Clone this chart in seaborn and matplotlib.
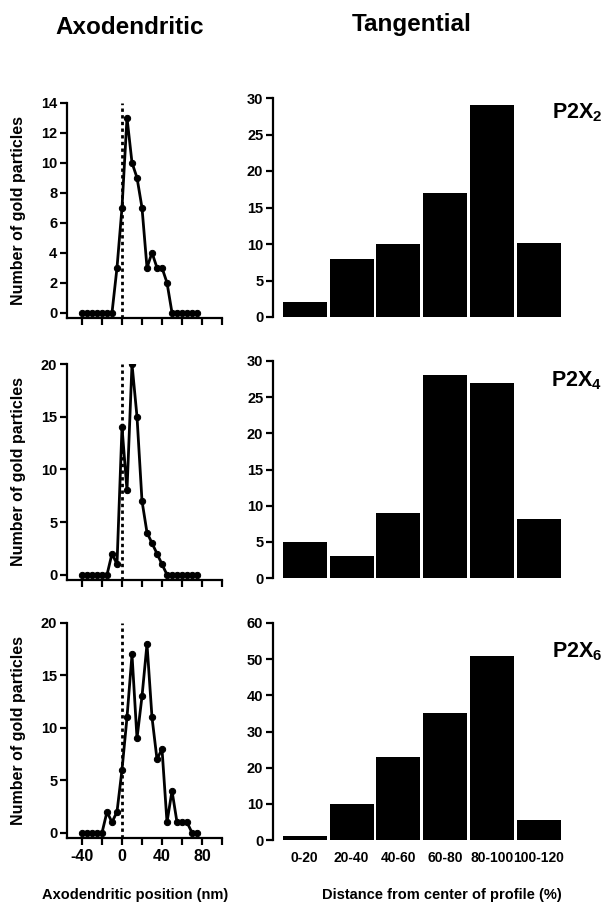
import matplotlib
matplotlib.use("Agg")
import matplotlib.pyplot as plt
import seaborn as sns

# ── data ──────────────────────────────────────────────────────────────────────
positions = list(range(-40, 80, 5))  # nm, axodendritic bins

axo_p2x2 = [0, 0, 0, 0, 0, 0, 0, 3, 7, 13, 10, 9, 7, 3, 4, 3, 3, 2, 0, 0, 0, 0, 0, 0]
axo_p2x4 = [0, 0, 0, 0, 0, 0, 2, 1, 14, 8, 20, 15, 7, 4, 3, 2, 1, 0, 0, 0, 0, 0, 0, 0]
axo_p2x6 = [0, 0, 0, 0, 0, 2, 1, 2, 6, 11, 17, 9, 13, 18, 11, 7, 8, 1, 4, 1, 1, 1, 0, 0]

bins = ["0-20", "20-40", "40-60", "60-80", "80-100", "100-120"]
tan_p2x2 = [2, 8, 10, 17, 29, 10.2]
tan_p2x4 = [5, 3, 9, 28, 27, 8.2]
tan_p2x6 = [1, 10, 23, 35, 51, 5.5]

labels = ["P2X$_2$", "P2X$_4$", "P2X$_6$"]

sns.set_theme(style="ticks")
plt.rcParams.update({
    "font.family": ["Liberation Sans", "DejaVu Sans"],
    "font.weight": "bold",
    "mathtext.default": "regular",
    "axes.linewidth": 1.6,
    "axes.unicode_minus": False,
    "text.color": "black", "axes.labelcolor": "black",
    "xtick.color": "black", "ytick.color": "black", "axes.edgecolor": "black",
})

W, H = 613, 906
fig = plt.figure(figsize=(W / 100, H / 100), dpi=100)


def px_axes(left, right, top, bottom):
    return fig.add_axes([left / W, 1 - bottom / H, (right - left) / W, (bottom - top) / H])


# (top px, bottom px) per row
left_rows = [(102.7, 318), (364, 580), (623, 838)]
right_rows = [(98, 317), (361, 578), (623, 840)]
left_ylims = [(-0.35, 14), (-0.5, 20), (-0.5, 20)]
left_yticks = [range(0, 15, 2), range(0, 21, 5), range(0, 21, 5)]
right_ylims = [(0, 30), (0, 30), (0, 60)]
right_yticks = [range(0, 31, 5), range(0, 31, 5), range(0, 61, 10)]
label_y = [113, 381, 652]

axo_series = [axo_p2x2, axo_p2x4, axo_p2x6]
tan_series = [tan_p2x2, tan_p2x4, tan_p2x6]

for i in range(3):
    # ── axodendritic line plot ───────────────────────────────────────────────
    ax = px_axes(67, 222, *left_rows[i])
    ax.axvline(0, color="black", lw=2, ls=(0, (1.2, 1.2)), zorder=1)
    sns.lineplot(x=positions, y=axo_series[i], ax=ax, color="black", lw=2,
                 marker="o", markersize=4.5, markeredgecolor="black", zorder=3)
    ax.set_xlim(-55, 100)
    ax.set_ylim(*left_ylims[i])
    ax.set_yticks(list(left_yticks[i]))
    ax.set_xticks([-40, 0, 40, 80])
    ax.set_xticks([-20, 20, 60, 100], minor=True)
    ax.tick_params(axis="both", which="both", direction="out", length=5,
                   width=1.6, labelsize=10.5, pad=2)
    ax.tick_params(axis="x", labelsize=11.5, pad=3)
    sns.despine(ax=ax)
    if i < 2:
        ax.set_xticklabels([])
    ax.set_xlabel("")
    ax.set_ylabel("")
    for t in ax.get_xticklabels() + ax.get_yticklabels():
        t.set_fontweight("bold")
    top, bot = left_rows[i]
    fig.text(19 / W, 1 - (top + bot) / 2 / H, "Number of gold particles",
             rotation=90, ha="center", va="center", fontsize=11.5, fontweight="bold")

    # ── tangential bar plot ──────────────────────────────────────────────────
    ax = px_axes(273, 562, *right_rows[i])
    sns.barplot(x=bins, y=tan_series[i], ax=ax, color="black", saturation=1,
                width=0.94, edgecolor="none")
    ax.set_xlim(-0.68, 5.5)
    ax.set_ylim(*right_ylims[i])
    ax.set_yticks(list(right_yticks[i]))
    sns.despine(ax=ax, bottom=True)
    ax.tick_params(axis="y", direction="out", length=5, width=1.6,
                   labelsize=10.5, pad=2)
    ax.tick_params(axis="x", length=0, labelsize=10, pad=8)
    if i < 2:
        ax.set_xticklabels([])
    ax.set_xlabel("")
    ax.set_ylabel("")
    for t in ax.get_xticklabels() + ax.get_yticklabels():
        t.set_fontweight("bold")
    fig.text(577 / W, 1 - label_y[i] / H, labels[i], ha="center", va="center",
             fontsize=15.5, fontweight="bold")

fig.text(130 / W, 1 - 27 / H, "Axodendritic", ha="center", va="center",
         fontsize=17.5, fontweight="bold")
fig.text(412 / W, 1 - 25 / H, "Tangential", ha="center", va="center",
         fontsize=17.5, fontweight="bold")
fig.text(135 / W, 1 - 895 / H, "Axodendritic position (nm)", ha="center",
         va="center", fontsize=10.5, fontweight="bold")
fig.text(442 / W, 1 - 895 / H, "Distance from center of profile (%)", ha="center",
         va="center", fontsize=10.5, fontweight="bold")

fig.savefig("out.png", dpi=100)
